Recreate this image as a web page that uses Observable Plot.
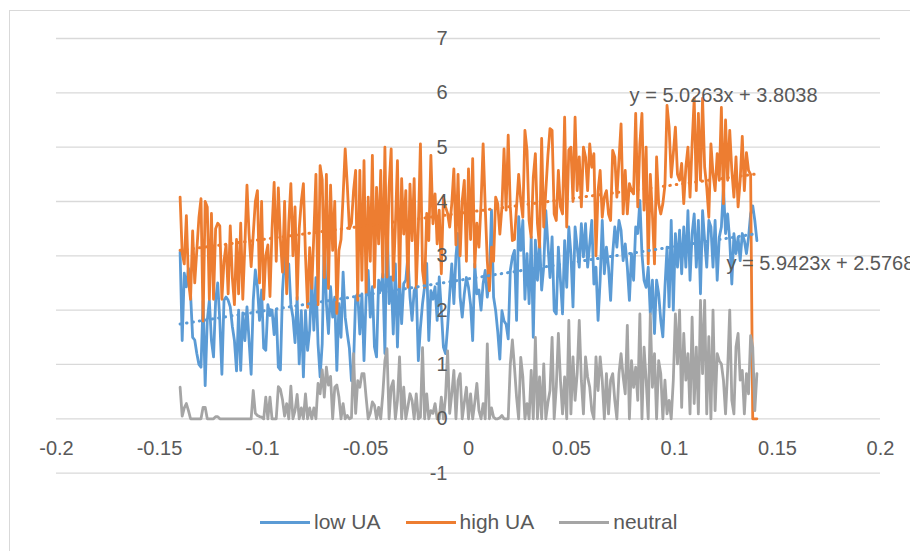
<!DOCTYPE html>
<html>
<head>
<meta charset="utf-8">
<script src="https://cdn.jsdelivr.net/npm/d3@7"></script>
<script src="https://cdn.jsdelivr.net/npm/@observablehq/plot@0.6"></script>
<style>
  html, body { margin: 0; padding: 0; background: #fff; }
  #wrap { position: relative; width: 910px; height: 551px; overflow: hidden; background: #fff;
          font-family: 'Liberation Sans', Arial, sans-serif; }
  #frame { position: absolute; left: 9px; top: 10px; width: 1200px; height: 1200px;
           border: 1.5px solid #d9d9d9; box-sizing: border-box; }
  #chart { position: absolute; left: 0; top: 0; }
  #legend { position: absolute; left: 260px; top: 510px; display: flex; align-items: center;
            font-size: 21px; color: #595959; white-space: nowrap; }
  #legend .item { display: flex; align-items: center; margin-right: 25px; }
  #legend .swatch { width: 50px; height: 3px; margin-right: 4px; }
</style>
</head>
<body>
<div id="wrap">
  <div id="frame"></div>
  <div id="chart"></div>
  <div id="legend"></div>
</div>
<script>
// ---- data ----
const xMin = -0.14, xMax = 0.14;

const lowUA = [
  3.07, 1.44, 2.68, 2.43, 2.77, 2.3, 1.5, 1.45, 1.2, 1.0,
  0.95, 2.17, 0.61, 1.81, 2.18, 1.44, 1.14, 2.18, 2.5, 1.81,
  0.82, 2.18, 2.24, 2.18, 2.06, 1.7, 1.44, 0.88, 2.0, 0.89,
  1.95, 1.44, 2.06, 1.44, 0.82, 2.18, 2.74, 2.43, 1.81, 2.37,
  1.3, 1.26, 2.1, 1.9, 2.0, 1.55, 2.0, 0.95, 0.9, 2.35,
  2.97, 2.6, 2.85, 2.1, 1.87, 1.4, 2.24, 1.01, 1.99, 0.77,
  1.99, 1.26, 1.63, 2.6, 1.63, 2.6, 1.38, 0.77, 1.38, 3.34,
  2.12, 1.57, 2.43, 1.87, 2.24, 0.89, 2.12, 1.5, 2.7, 1.87,
  1.57, 1.3, 0.7, 1.01, 2.24, 2.3, 1.56, 2.3, 1.07, 2.24,
  2.73, 1.87, 2.43, 1.32, 1.14, 2.55, 2.36, 2.67, 1.2, 3.84,
  2.12, 2.61, 1.56, 2.85, 1.32, 2.61, 1.75, 2.49, 2.55, 2.99,
  2.24, 1.81, 2.36, 2.43, 1.07, 1.68, 2.12, 2.43, 2.86, 1.44,
  2.36, 2.2, 2.43, 1.81, 2.61, 2.0, 1.32, 1.2, 1.69, 2.3,
  2.85, 2.12, 3.0, 3.41, 2.24, 1.87, 2.3, 2.6, 2.42, 2.1,
  1.44, 2.85, 2.3, 2.37, 2.0, 2.49, 2.73, 2.24, 2.58, 3.84,
  2.24, 1.99, 1.6, 1.1, 1.99, 1.8, 1.74, 1.47, 2.73, 2.98,
  3.1, 1.81, 3.72, 3.1, 3.65, 2.2, 3.04, 2.12, 3.35, 1.5,
  3.29, 2.55, 3.29, 2.37, 2.8, 3.83, 3.22, 2.6, 3.35, 1.99,
  1.93, 3.16, 2.55, 1.93, 3.28, 2.42, 3.53, 3.04, 2.06, 3.53,
  3.16, 2.79, 3.59, 2.98, 3.59, 2.79, 3.22, 3.65, 2.48, 2.79,
  1.81, 2.55, 3.65, 2.67, 3.16, 2.79, 2.18, 3.04, 3.53, 3.16,
  3.65, 3.47, 2.91, 3.22, 2.79, 2.18, 3.04, 2.55, 3.53, 3.41,
  4.02, 3.04, 2.55, 2.42, 2.79, 1.93, 2.55, 1.57, 2.55, 2.3,
  1.81, 1.51, 2.42, 3.16, 2.06, 3.65, 2.0, 3.41, 2.79, 3.47,
  2.67, 3.53, 2.79, 3.83, 2.55, 3.41, 3.77, 2.79, 3.65, 2.3,
  3.83, 3.28, 2.79, 3.65, 3.53, 2.79, 3.65, 2.55, 3.34, 3.53,
  4.26, 3.41, 3.77, 3.28, 2.48, 3.41, 3.04, 3.34, 2.91, 3.41,
  3.28, 3.04, 3.34, 3.77, 3.92, 3.65, 3.28
];

const highUA = [
  4.08, 3.05, 2.85, 3.74, 2.55, 2.2, 3.46, 2.5, 3.1, 3.7,
  4.05, 1.8, 4.0, 3.9, 2.2, 3.78, 2.2, 3.5, 3.6, 3.55,
  2.2, 2.9, 3.2, 2.3, 3.55, 2.6, 2.1, 3.3, 2.3, 3.6,
  2.2, 3.2, 4.3, 3.4, 2.8, 3.4, 4.0, 4.2, 2.5, 4.0,
  2.2, 3.0, 3.2, 2.25, 3.5, 4.35, 2.9, 4.25, 3.3, 2.7,
  4.0, 2.3, 3.6, 4.33, 3.0, 3.9, 2.2, 3.5, 4.0, 4.33,
  3.0, 2.05, 3.15, 2.4, 3.4, 4.5, 2.1, 4.66, 4.4, 2.6,
  4.5, 2.4, 4.3, 3.1, 4.0, 1.94, 3.1, 3.3, 4.1, 4.97,
  4.3, 3.5, 3.6, 4.2, 4.57, 2.18, 4.57, 2.55, 4.75, 2.3,
  4.08, 2.9, 4.85, 2.42, 4.26, 3.22, 4.57, 2.61, 5.0, 2.61,
  4.26, 4.97, 2.55, 3.53, 4.75, 2.42, 4.42, 3.4, 4.2, 2.42,
  4.32, 3.28, 4.42, 2.42, 3.53, 5.06, 2.73, 2.42, 3.78, 3.28,
  4.85, 3.59, 4.14, 3.22, 3.84, 2.67, 4.08, 3.9, 3.78, 3.53,
  3.96, 4.6, 3.2, 4.5, 3.0, 4.02, 4.39, 2.9, 4.6, 3.3,
  4.79, 2.79, 3.6, 3.16, 3.96, 5.06, 3.9, 2.9, 2.36, 3.16,
  2.9, 4.08, 3.96, 3.4, 3.9, 4.97, 3.84, 5.22, 3.9, 3.28,
  3.3, 3.9, 4.5, 4.02, 3.71, 5.31, 4.94, 3.65, 3.34, 4.45,
  4.88, 3.59, 3.16, 5.16, 3.53, 4.2, 4.85, 5.34, 5.31, 3.77,
  3.65, 4.57, 3.9, 3.77, 5.55, 3.53, 4.95, 5.0, 4.0, 5.55,
  4.2, 4.82, 3.9, 5.0, 4.82, 4.2, 5.06, 4.63, 4.88, 3.0,
  4.2, 4.57, 3.71, 4.08, 4.2, 3.77, 3.65, 4.94, 4.82, 4.08,
  4.76, 5.43, 3.77, 4.57, 3.77, 4.33, 4.2, 4.14, 5.62, 3.9,
  5.06, 5.62, 3.84, 5.0, 2.85, 4.5, 3.77, 2.85, 4.82, 3.96,
  3.77, 3.96, 4.3, 5.77, 5.37, 4.45, 4.88, 5.37, 4.5, 4.39,
  4.7, 3.96, 4.63, 5.0, 4.08, 5.06, 5.9, 4.2, 5.62, 4.39,
  5.9, 4.63, 4.26, 3.71, 5.06, 4.51, 4.2, 4.88, 4.39, 5.73,
  3.96, 5.5, 4.39, 5.31, 4.57, 4.08, 4.82, 3.9, 4.39, 5.2,
  4.2, 4.9, 4.57, 4.5, 0, 0, 0
];

const neutral = [
  0.58, 0.05, 0.2, 0.28, 0.15, 0, 0, 0, 0, 0,
  0, 0.21, 0.21, 0, 0, 0, 0, 0.04, 0.04, 0,
  0, 0, 0, 0, 0, 0, 0, 0, 0, 0,
  0, 0, 0, 0, 0, 0.52, 0.1, 0.06, 0.04, 0.03,
  0, 0.4, 0, 0.4, 0, 0, 0, 0.59, 0.54, 0.35,
  0.05, 0.28, 0, 0.6, 0, 0.15, 0.45, 0, 0.2, 0,
  0.46, 0, 0.2, 0, 0.2, 0, 0.65, 0.46, 0.9, 0.4,
  0.95, 0.62, 0.78, 0, 0.58, 0.62, 0.4, 0, 0.28, 0,
  0.06, 0, 0.02, 1.2, 0.1, 0.7, 0.58, 0.83, 0.83, 0.4,
  0, 0.1, 0.31, 0.25, 0, 0.21, 0, 0.46, 1.07, 1.29,
  0, 0.58, 0.7, 0, 0.34, 1.14, 0, 0.58, 0, 0.22,
  0.46, 0.34, 0, 0.46, 0, 0.03, 1.31, 0, 0.46, 0,
  0.15, 0.1, 0.28, 0, 0, 0.4, 0, 0.4, 1.25, 0.1,
  0.46, 0.89, 0, 0.7, 0.83, 0, 0.3, 0.58, 0, 0.46,
  0, 0.3, 0.65, 0.15, 0, 0.28, 0, 1.38, 0, 0.2,
  0.03, 0, 0, 0.02, 0.06, 0, 0, 0, 1.0, 1.45,
  0.95, 0.4, 0, 1.13, 0.77, 0, 0.28, 0, 0.89, 0,
  1.5, 0, 0.77, 0, 1.01, 0, 0.3, 0.52, 1.5, 0,
  0.58, 1.57, 0.71, 0.09, 0.77, 0, 1.81, 0.09, 1.14, 0.34,
  0.83, 1.81, 0.71, 0.09, 1.14, 0.77, 0.58, 0.15, 0, 1.14,
  0.52, 1.14, 0.71, 0, 0.83, 0.09, 0.71, 0.83, 0.34, 0,
  0.83, 1.2, 0.77, 0.46, 1.72, 0, 1.07, 0.58, 0.95, 0.34,
  1.93, 0, 1.32, 0.71, 0, 1.93, 0.58, 1.2, 0, 1.07,
  0.83, 0, 0.71, 0.09, 0.34, 0, 0.71, 1.93, 1.01, 2.0,
  0.21, 1.57, 0.71, 1.2, 0.09, 1.87, 0.28, 1.32, 0.09, 2.18,
  0.83, 2.18, 0.09, 1.51, 0, 2.0, 0.15, 1.2, 1.07, 1.01,
  0.71, 0.09, 0.89, 2.0, 0.34, 0.09, 1.32, 1.57, 0.71, 0.89,
  0.09, 0.83, 0.46, 1.53, 1.32, 0.15, 0.83
];

const seriesNames = ["low UA", "high UA", "neutral"];
const seriesColors = ["#5B9BD5", "#ED7D31", "#A5A5A5"];

const xTicks = [-0.2, -0.15, -0.1, -0.05, 0, 0.05, 0.1, 0.15, 0.2];
const xTickLabels = ["-0.2", "-0.15", "-0.1", "-0.05", "0", "0.05", "0.1", "0.15", "0.2"];
const yTicks = [-1, 0, 1, 2, 3, 4, 5, 6, 7];
const yTickLabels = ["-1", "0", "1", "2", "3", "4", "5", "6", "7"];

// trendlines (Excel linear trendlines as labelled on the chart)
const trendSeries = ["high UA", "low UA"];
const trendSlopes = [5.0263, 5.9423];
const trendIntercepts = [3.8038, 2.5768];
const trendLabels = ["y = 5.0263x + 3.8038", "y = 5.9423x + 2.5768"];
const trendLabelX = [0.0782, 0.1252];
const trendLabelY = [5.95, 2.86];

// ---- build tables ----
const seriesValues = [lowUA, highUA, neutral];
const rows = seriesValues.flatMap((vals, k) =>
  vals.map((v, i) => ({
    series: seriesNames[k],
    x: xMin + i * (xMax - xMin) / (vals.length - 1),
    y: v
  }))
);
const trendRows = trendSeries.flatMap((s, k) =>
  [xMin, xMax].map(x => ({ series: s, x, y: trendSlopes[k] * x + trendIntercepts[k] }))
);
const trendText = trendSeries.map((s, k) => ({ x: trendLabelX[k], y: trendLabelY[k], text: trendLabels[k] }));

const textColor = "#595959";
const fontSize = 20;

const chart = Plot.plot({
  width: 910,
  height: 500,
  marginLeft: 56,
  marginRight: 30,
  marginTop: 38,
  marginBottom: 27.4,
  style: { fontFamily: "'Liberation Sans', Arial, sans-serif", background: "transparent", overflow: "visible" },
  x: { domain: [-0.2, 0.2], axis: null },
  y: { domain: [-1, 7], axis: null },
  color: { domain: seriesNames, range: seriesColors },
  marks: [
    Plot.ruleY(yTicks, { stroke: "#d9d9d9", strokeWidth: 1.3 }),
    Plot.line(rows, { x: "x", y: "y", z: "series", stroke: "series", strokeWidth: 2.8,
                      strokeLinejoin: "round", strokeLinecap: "round" }),
    Plot.line(trendRows, { x: "x", y: "y", z: "series", stroke: "series", strokeWidth: 3,
                           strokeDasharray: "0.5 6", strokeLinecap: "round" }),
    Plot.text(yTicks, { x: () => 0, y: d => d, text: (d, i) => yTickLabels[i], textAnchor: "end",
                        dx: -21, fontSize, fill: textColor }),
    Plot.text(xTicks, { x: d => d, y: () => 0, text: (d, i) => xTickLabels[i], dy: 30,
                        fontSize, fill: textColor }),
    Plot.text(trendText, { x: "x", y: "y", text: "text", textAnchor: "start", fontSize, fill: textColor })
  ]
});
document.getElementById("chart").appendChild(chart);

// legend
const legend = document.getElementById("legend");
seriesNames.forEach((name, k) => {
  const item = document.createElement("div");
  item.className = "item";
  const sw = document.createElement("span");
  sw.className = "swatch";
  sw.style.background = seriesColors[k];
  const label = document.createElement("span");
  label.textContent = name;
  item.appendChild(sw);
  item.appendChild(label);
  legend.appendChild(item);
});
</script>
</body>
</html>
